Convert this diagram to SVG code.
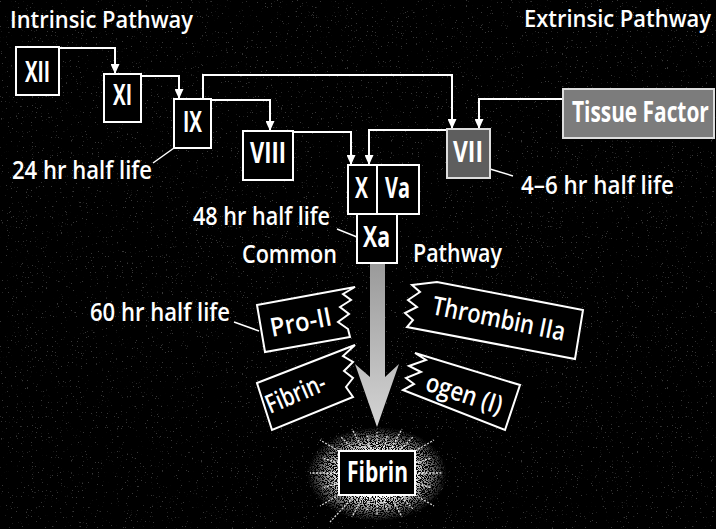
<svg xmlns="http://www.w3.org/2000/svg" width="716" height="529" viewBox="0 0 716 529">
<defs>
<style>
.t{font-family:"Open Sans","Liberation Sans",sans-serif;font-weight:600;fill:#fff}
.lab{font-size:25px}
.bl{font-size:29px;font-weight:700}
.tg{font-size:26px}
.box{fill:#000;stroke:#fff;stroke-width:2}
.con{fill:none;stroke:#fff;stroke-width:2}
.lead{fill:none;stroke:#fff;stroke-width:1.5}
.tag{fill:#000;stroke:#fff;stroke-width:2;stroke-linejoin:miter}
.ray{stroke:#fff;stroke-width:1.3;stroke-dasharray:2 1.5;opacity:0.85}
</style>
<marker id="ah" markerUnits="userSpaceOnUse" markerWidth="10" markerHeight="9" viewBox="0 0 10 9" refX="10" refY="4.5" orient="auto">
<path d="M0,0 L10,4.5 L0,9 Z" fill="#fff"/>
</marker>
<linearGradient id="shaft" x1="0" y1="0" x2="0" y2="1">
<stop offset="0" stop-color="#9a9a9a"/>
<stop offset="1" stop-color="#d4d4d4"/>
</linearGradient>
<radialGradient id="glow" cx="0.5" cy="0.5" r="0.5">
<stop offset="0.5" stop-color="#fff" stop-opacity="1"/>
<stop offset="1" stop-color="#fff" stop-opacity="0"/>
</radialGradient>
<filter id="speck" x="0" y="0" width="100%" height="100%">
<feTurbulence type="fractalNoise" baseFrequency="0.9" numOctaves="2" seed="7" result="n"/>
<feColorMatrix in="n" type="matrix" values="0 0 0 0 1 0 0 0 0 1 0 0 0 0 1 12 0 0 0 -5.4" result="m"/>
<feComposite in="m" in2="SourceGraphic" operator="in"/>
</filter>
<filter id="bgn" x="0" y="0" width="100%" height="100%">
<feTurbulence type="fractalNoise" baseFrequency="0.8" numOctaves="2" seed="3" result="n"/>
<feColorMatrix in="n" type="matrix" values="0 0 0 0 1 0 0 0 0 1 0 0 0 0 1 14 0 0 0 -9.9" result="m"/>
<feComposite in="m" in2="SourceGraphic" operator="in"/>
</filter>
</defs>
<rect x="0" y="0" width="716" height="529" fill="#000"/>
<rect x="0" y="0" width="716" height="529" fill="#fff" opacity="0.22" filter="url(#bgn)"/>

<g id="titles">
<text class="t" x="10" y="28" font-size="23" textLength="183" lengthAdjust="spacingAndGlyphs">Intrinsic Pathway</text>
<text class="t" font-size="23" transform="translate(524,27) scale(0.88,1)" textLength="212.5" lengthAdjust="spacingAndGlyphs">Extrinsic Pathway</text>
<text class="t lab" x="242" y="263" textLength="95" lengthAdjust="spacingAndGlyphs">Common</text>
<text class="t lab" x="413" y="262" textLength="89" lengthAdjust="spacingAndGlyphs">Pathway</text>
</g>

<g id="connectors">
<path class="con" d="M59,48 H115 V74" marker-end="url(#ah)"/>
<path class="con" d="M141,76 H179 V99" marker-end="url(#ah)"/>
<path class="con" d="M203,99 V75 H452 V129" marker-end="url(#ah)"/>
<path class="con" d="M211,100 H270 V131" marker-end="url(#ah)"/>
<path class="con" d="M293,132 H351 V165" marker-end="url(#ah)"/>
<path class="con" d="M447,130 H369 V165" marker-end="url(#ah)"/>
<path class="con" d="M563,99 H479 V129" marker-end="url(#ah)"/>
<path class="lead" d="M174,148 L153,163"/>
<path class="lead" d="M490,169 L513,176"/>
<path class="lead" d="M337,229 L357,237"/>
<path class="lead" d="M234,322 L259,331"/>
<path d="M370,263 V377 L355,364 L377,427 L399,364 L385,377 V263 Z" fill="url(#shaft)"/>
</g>

<g id="n-xii">
<rect class="box" x="16" y="47" width="43" height="48"/>
<text class="t bl" x="25" y="82" textLength="25" lengthAdjust="spacingAndGlyphs">XII</text>
</g>
<g id="n-xi">
<rect class="box" x="104" y="74" width="37" height="48"/>
<text class="t bl" x="113" y="105" textLength="19" lengthAdjust="spacingAndGlyphs">XI</text>
</g>
<g id="n-ix">
<rect class="box" x="174" y="99" width="37" height="49"/>
<text class="t bl" x="183" y="132" textLength="19" lengthAdjust="spacingAndGlyphs">IX</text>
</g>
<g id="n-viii">
<rect class="box" x="243" y="131" width="50" height="49"/>
<text class="t bl" x="250" y="163" textLength="36" lengthAdjust="spacingAndGlyphs">VIII</text>
</g>
<g id="n-x">
<rect class="box" x="348" y="165" width="29" height="49"/>
<text class="t bl" x="355" y="198" textLength="13" lengthAdjust="spacingAndGlyphs">X</text>
</g>
<g id="n-va">
<rect class="box" x="377" y="165" width="42" height="49"/>
<text class="t bl" x="385" y="198" textLength="25" lengthAdjust="spacingAndGlyphs">Va</text>
</g>
<g id="n-xa">
<rect class="box" x="357" y="214" width="40" height="49"/>
<text class="t bl" x="363" y="247" textLength="27" lengthAdjust="spacingAndGlyphs">Xa</text>
</g>
<g id="n-vii">
<rect x="447" y="129" width="43" height="49" fill="#5e5e5e" stroke="#ddd" stroke-width="2"/>
<text class="t bl" x="453" y="162" textLength="30" lengthAdjust="spacingAndGlyphs">VII</text>
</g>
<g id="n-tissue">
<rect x="563" y="89" width="151" height="49" fill="#7c7c7c" stroke="#ddd" stroke-width="2"/>
<text class="t bl" transform="translate(572,122) scale(0.72,1)" textLength="190" lengthAdjust="spacingAndGlyphs">Tissue Factor</text>
</g>

<g id="halflife-labels">
<text class="t lab" x="12" y="179" textLength="140" lengthAdjust="spacingAndGlyphs">24 hr half life</text>
<text class="t lab" x="521" y="194" textLength="153" lengthAdjust="spacingAndGlyphs">4–6 hr half life</text>
<text class="t lab" x="193" y="225" textLength="137" lengthAdjust="spacingAndGlyphs">48 hr half life</text>
<text class="t lab" x="90" y="321" textLength="140" lengthAdjust="spacingAndGlyphs">60 hr half life</text>
</g>

<g id="n-proii">
<polygon class="tag" points="257,305 355,287 343,294 351,300 340,307 349,314 338,322 348,329 350,337 265,352"/>
<text class="t tg" transform="translate(272,337) rotate(-11)" textLength="62" lengthAdjust="spacingAndGlyphs">Pro-II</text>
</g>
<g id="n-fibrin-">
<polygon class="tag" points="257,383 355,345 343,356 353,362 344,371 353,378 346,387 353,397 272,430"/>
<text class="t tg" transform="translate(270,414) rotate(-23)" textLength="63" lengthAdjust="spacingAndGlyphs">Fibrin-</text>
</g>
<g id="n-thrombin">
<polygon class="tag" points="412,285 437,282 583,310 575,359 407,327 413,320 405,313 417,307 408,300 420,292"/>
<text class="t tg" transform="translate(431,314) rotate(11.5)" textLength="135" lengthAdjust="spacingAndGlyphs">Thrombin IIa</text>
</g>
<g id="n-ogen">
<polygon class="tag" points="415,353 520,385 505,430 403,390 414,384 406,378 421,372 409,366 426,360"/>
<text class="t tg" transform="translate(424,390) rotate(18)" textLength="79" lengthAdjust="spacingAndGlyphs">ogen (I)</text>
</g>

<g id="n-fibrin">
<ellipse cx="377" cy="474" rx="70" ry="47" fill="url(#glow)" filter="url(#speck)"/>
<g class="ray">
<line x1="415" y1="473" x2="442" y2="473"/>
<line x1="415" y1="483" x2="432" y2="488"/>
<line x1="415" y1="495" x2="434" y2="506"/>
<line x1="399" y1="495" x2="413" y2="509"/>
<line x1="390" y1="495" x2="402" y2="517"/>
<line x1="383" y1="495" x2="387" y2="510"/>
<line x1="377" y1="495" x2="377" y2="515"/>
<line x1="371" y1="495" x2="367" y2="510"/>
<line x1="364" y1="495" x2="352" y2="517"/>
<line x1="355" y1="495" x2="330" y2="522"/>
<line x1="339" y1="495" x2="320" y2="506"/>
<line x1="339" y1="483" x2="322" y2="488"/>
<line x1="339" y1="473" x2="310" y2="473"/>
<line x1="339" y1="463" x2="322" y2="458"/>
<line x1="339" y1="451" x2="320" y2="440"/>
<line x1="355" y1="451" x2="341" y2="437"/>
<line x1="364" y1="451" x2="352" y2="429"/>
<line x1="371" y1="451" x2="367" y2="436"/>
<line x1="377" y1="451" x2="377" y2="432"/>
<line x1="383" y1="451" x2="387" y2="436"/>
<line x1="390" y1="451" x2="402" y2="429"/>
<line x1="399" y1="451" x2="413" y2="437"/>
<line x1="415" y1="451" x2="434" y2="440"/>
<line x1="415" y1="463" x2="432" y2="458"/>
</g>
<rect class="box" x="339" y="451" width="76" height="44"/>
<text class="t bl" x="347" y="482" textLength="61" lengthAdjust="spacingAndGlyphs">Fibrin</text>
</g>
</svg>
